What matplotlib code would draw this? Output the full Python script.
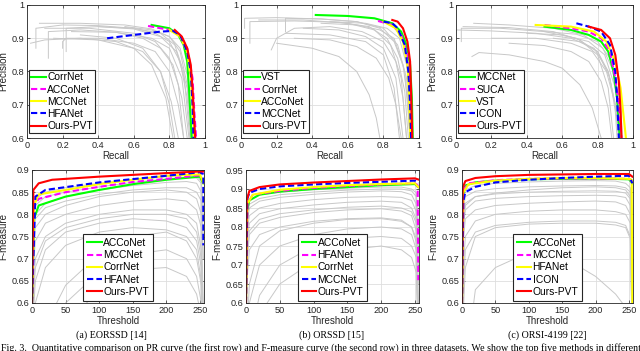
import matplotlib
matplotlib.use("Agg")
import matplotlib.pyplot as plt

plt.rcParams['font.family'] = ['Liberation Sans', 'DejaVu Sans']

W, H = 640, 351

# ---------------- PR curves (recall, precision) ----------------
pr_a_gray = [
    ([0.05, 0.05, 0.2, 0.4, 0.6, 0.72, 0.8, 0.86, 0.9, 0.92], [0.87, 0.93, 0.94, 0.938, 0.93, 0.915, 0.89, 0.83, 0.72, 0.6]),
    ([0.12, 0.12, 0.3, 0.5, 0.65, 0.75, 0.82, 0.87, 0.9], [0.84, 0.92, 0.925, 0.918, 0.9, 0.87, 0.82, 0.72, 0.6]),
    ([0.2, 0.2, 0.22, 0.4, 0.6, 0.72, 0.8, 0.85, 0.88], [0.87, 0.89, 0.9, 0.9, 0.885, 0.86, 0.8, 0.7, 0.6]),
    ([0.22, 0.22, 0.4, 0.6, 0.75, 0.84, 0.9, 0.93], [0.86, 0.93, 0.935, 0.928, 0.905, 0.86, 0.75, 0.6]),
    ([0.02, 0.1, 0.3, 0.5, 0.65, 0.75, 0.81, 0.85], [0.885, 0.895, 0.9, 0.89, 0.86, 0.8, 0.71, 0.6]),
    ([0.07, 0.3, 0.55, 0.7, 0.8, 0.86, 0.9, 0.925], [0.945, 0.945, 0.94, 0.928, 0.905, 0.86, 0.76, 0.6]),
    ([0.1, 0.35, 0.6, 0.72, 0.8, 0.85, 0.88], [0.93, 0.93, 0.915, 0.89, 0.84, 0.76, 0.6]),
    ([0.3, 0.5, 0.65, 0.75, 0.8, 0.83], [0.91, 0.9, 0.87, 0.8, 0.7, 0.6]),
    ([0.25, 0.5, 0.7, 0.8, 0.87, 0.91], [0.92, 0.918, 0.9, 0.87, 0.78, 0.6]),
    ([0.4, 0.6, 0.75, 0.83, 0.88, 0.915], [0.935, 0.93, 0.915, 0.88, 0.8, 0.6]),
    ([0.55, 0.7, 0.8, 0.86, 0.9, 0.93], [0.935, 0.925, 0.905, 0.87, 0.79, 0.6]),
    ([0.15, 0.4, 0.6, 0.7, 0.78, 0.82], [0.9, 0.895, 0.87, 0.82, 0.72, 0.6]),
]
pr_b_gray = [
    ([0.02, 0.02, 0.2, 0.45, 0.65, 0.8, 0.88, 0.93, 0.955], [0.93, 0.96, 0.962, 0.958, 0.95, 0.93, 0.88, 0.78, 0.6]),
    ([0.05, 0.05, 0.3, 0.55, 0.72, 0.82, 0.88, 0.92, 0.94], [0.885, 0.95, 0.952, 0.948, 0.935, 0.9, 0.84, 0.74, 0.6]),
    ([0.17, 0.2, 0.3, 0.5, 0.68, 0.8, 0.87, 0.91, 0.93], [0.865, 0.9, 0.93, 0.935, 0.92, 0.89, 0.83, 0.72, 0.6]),
    ([0.25, 0.25, 0.45, 0.65, 0.78, 0.86, 0.91, 0.94, 0.95], [0.92, 0.96, 0.958, 0.95, 0.93, 0.89, 0.82, 0.7, 0.6]),
    ([0.2, 0.4, 0.55, 0.65, 0.72, 0.76, 0.78], [0.885, 0.87, 0.845, 0.8, 0.73, 0.66, 0.6]),
    ([0.3, 0.5, 0.65, 0.76, 0.83, 0.87, 0.9], [0.9, 0.895, 0.875, 0.84, 0.78, 0.7, 0.6]),
    ([0.1, 0.35, 0.6, 0.75, 0.84, 0.9, 0.93], [0.955, 0.955, 0.945, 0.925, 0.88, 0.78, 0.6]),
    ([0.35, 0.55, 0.7, 0.8, 0.87, 0.91], [0.93, 0.925, 0.905, 0.87, 0.78, 0.6]),
    ([0.45, 0.65, 0.78, 0.86, 0.92, 0.95], [0.945, 0.94, 0.925, 0.9, 0.8, 0.6]),
    ([0.5, 0.7, 0.82, 0.89, 0.94, 0.96], [0.95, 0.945, 0.93, 0.9, 0.8, 0.6]),
    ([0.25, 0.5, 0.7, 0.8, 0.86, 0.89], [0.915, 0.91, 0.89, 0.85, 0.75, 0.6]),
]
pr_c_gray = [
    ([0.0, 0.2, 0.45, 0.65, 0.78, 0.86, 0.9, 0.92], [0.925, 0.922, 0.915, 0.9, 0.87, 0.8, 0.7, 0.6]),
    ([0.03, 0.03, 0.25, 0.5, 0.68, 0.8, 0.87, 0.9, 0.91], [0.89, 0.93, 0.93, 0.92, 0.9, 0.86, 0.78, 0.68, 0.6]),
    ([0.1, 0.3, 0.55, 0.72, 0.83, 0.89, 0.93, 0.94], [0.945, 0.94, 0.93, 0.91, 0.87, 0.8, 0.7, 0.6]),
    ([0.04, 0.3, 0.55, 0.7, 0.8, 0.86, 0.89], [0.935, 0.932, 0.92, 0.895, 0.85, 0.75, 0.6]),
    ([0.09, 0.13, 0.3, 0.5, 0.6, 0.7, 0.77, 0.82], [0.845, 0.857, 0.85, 0.83, 0.81, 0.76, 0.69, 0.6]),
    ([0.3, 0.5, 0.65, 0.75, 0.82, 0.86, 0.88], [0.885, 0.878, 0.86, 0.83, 0.77, 0.69, 0.6]),
    ([0.2, 0.45, 0.65, 0.77, 0.85, 0.9, 0.92], [0.9, 0.9, 0.885, 0.86, 0.8, 0.7, 0.6]),
    ([0.4, 0.6, 0.75, 0.84, 0.9, 0.935], [0.915, 0.91, 0.89, 0.85, 0.75, 0.6]),
    ([0.5, 0.68, 0.8, 0.87, 0.91, 0.93], [0.92, 0.912, 0.89, 0.84, 0.74, 0.6]),
    ([0.55, 0.7, 0.8, 0.86, 0.9, 0.92], [0.9, 0.89, 0.86, 0.8, 0.7, 0.6]),
]

# top-five methods, (name, recall, precision)
pr_a_top = [
    ("CorrNet", [0.70, 0.8, 0.85, 0.88, 0.9, 0.91, 0.92, 0.925], [0.94, 0.93, 0.91, 0.88, 0.83, 0.75, 0.65, 0.6]),
    ("ACCoNet", [0.68, 0.8, 0.86, 0.9, 0.93, 0.94, 0.95], [0.937, 0.925, 0.91, 0.87, 0.78, 0.68, 0.6]),
    ("MCCNet", [0.8, 0.86, 0.9, 0.92, 0.935, 0.94], [0.925, 0.905, 0.86, 0.78, 0.65, 0.6]),
    ("HFANet", [0.45, 0.6, 0.75, 0.82, 0.86, 0.9, 0.92, 0.93, 0.935], [0.90, 0.91, 0.92, 0.922, 0.91, 0.86, 0.8, 0.7, 0.6]),
    ("Ours-PVT", [0.83, 0.87, 0.9, 0.92, 0.93, 0.94, 0.945], [0.925, 0.905, 0.87, 0.82, 0.75, 0.65, 0.6]),
]
pr_b_top = [
    ("VST", [0.42, 0.6, 0.75, 0.85, 0.9, 0.93, 0.95, 0.96, 0.965], [0.97, 0.967, 0.96, 0.945, 0.92, 0.88, 0.82, 0.72, 0.6]),
    ("CorrNet", [0.77, 0.85, 0.9, 0.93, 0.945, 0.95, 0.955], [0.952, 0.94, 0.91, 0.86, 0.78, 0.68, 0.6]),
    ("ACCoNet", [0.8, 0.87, 0.91, 0.935, 0.945, 0.95], [0.95, 0.93, 0.89, 0.82, 0.72, 0.6]),
    ("MCCNet", [0.8, 0.85, 0.88, 0.92, 0.94, 0.95, 0.955], [0.95, 0.945, 0.93, 0.88, 0.8, 0.7, 0.6]),
    ("Ours-PVT", [0.85, 0.88, 0.91, 0.935, 0.95, 0.955, 0.96, 0.962], [0.955, 0.95, 0.93, 0.89, 0.83, 0.75, 0.65, 0.6]),
]
pr_c_top = [
    ("MCCNet", [0.5, 0.65, 0.75, 0.82, 0.86, 0.89, 0.91, 0.925], [0.935, 0.925, 0.91, 0.89, 0.86, 0.8, 0.72, 0.6]),
    ("SUCA", [0.5, 0.65, 0.75, 0.82, 0.87, 0.9, 0.92, 0.935], [0.94, 0.93, 0.92, 0.9, 0.86, 0.78, 0.7, 0.6]),
    ("VST", [0.45, 0.65, 0.78, 0.85, 0.9, 0.93, 0.95, 0.96], [0.94, 0.935, 0.92, 0.89, 0.83, 0.75, 0.65, 0.6]),
    ("ICON", [0.68, 0.75, 0.82, 0.87, 0.9, 0.91, 0.92], [0.945, 0.935, 0.92, 0.88, 0.8, 0.72, 0.6]),
    ("Ours-PVT", [0.75, 0.82, 0.87, 0.9, 0.92, 0.93, 0.935], [0.935, 0.925, 0.9, 0.85, 0.77, 0.68, 0.6]),
]

# ---------------- F-measure curves ----------------
thr = [0, 1, 5, 20, 50, 100, 150, 200, 230, 245, 252, 255]
f_a_gray = [
    [0.55, 0.78, 0.82, 0.84, 0.85, 0.862, 0.872, 0.88, 0.884, 0.882, 0.87, 0.82],
    [0.55, 0.75, 0.80, 0.825, 0.84, 0.855, 0.865, 0.872, 0.874, 0.87, 0.85, 0.75],
    [0.5, 0.7, 0.77, 0.80, 0.82, 0.84, 0.85, 0.855, 0.85, 0.835, 0.8, 0.7],
    [0.5, 0.66, 0.74, 0.78, 0.80, 0.82, 0.83, 0.835, 0.83, 0.81, 0.77, 0.6],
    [0.45, 0.6, 0.7, 0.75, 0.78, 0.80, 0.81, 0.81, 0.80, 0.78, 0.72, 0.55],
    [0.4, 0.55, 0.65, 0.72, 0.76, 0.78, 0.79, 0.785, 0.77, 0.74, 0.68, 0.5],
    [0.4, 0.5, 0.6, 0.68, 0.73, 0.76, 0.77, 0.765, 0.75, 0.72, 0.65, 0.5],
    [0.3, 0.35, 0.45, 0.55, 0.64, 0.71, 0.75, 0.76, 0.74, 0.70, 0.64, 0.5],
    [0.3, 0.33, 0.4, 0.5, 0.6, 0.67, 0.71, 0.72, 0.70, 0.66, 0.6, 0.45],
    [0.3, 0.32, 0.36, 0.45, 0.55, 0.63, 0.675, 0.68, 0.66, 0.62, 0.57, 0.45],
    [0.55, 0.8, 0.835, 0.85, 0.86, 0.87, 0.878, 0.885, 0.888, 0.886, 0.875, 0.8],
    [0.5, 0.72, 0.79, 0.815, 0.83, 0.845, 0.855, 0.86, 0.86, 0.85, 0.83, 0.7],
    [0.4, 0.58, 0.68, 0.74, 0.77, 0.79, 0.80, 0.80, 0.79, 0.76, 0.7, 0.55],
]
f_b_gray = [
    [0.55, 0.83, 0.87, 0.885, 0.892, 0.898, 0.902, 0.905, 0.905, 0.9, 0.89, 0.8],
    [0.55, 0.8, 0.85, 0.868, 0.878, 0.886, 0.892, 0.895, 0.893, 0.885, 0.86, 0.7],
    [0.5, 0.78, 0.83, 0.85, 0.862, 0.872, 0.878, 0.88, 0.878, 0.87, 0.84, 0.65],
    [0.5, 0.75, 0.81, 0.835, 0.848, 0.858, 0.865, 0.868, 0.865, 0.85, 0.82, 0.6],
    [0.45, 0.7, 0.78, 0.81, 0.825, 0.838, 0.845, 0.848, 0.842, 0.83, 0.79, 0.55],
    [0.4, 0.65, 0.74, 0.78, 0.80, 0.815, 0.822, 0.824, 0.818, 0.8, 0.76, 0.5],
    [0.35, 0.45, 0.6, 0.7, 0.75, 0.78, 0.795, 0.8, 0.795, 0.78, 0.74, 0.5],
    [0.3, 0.4, 0.5, 0.62, 0.7, 0.75, 0.77, 0.775, 0.77, 0.75, 0.72, 0.5],
    [0.3, 0.35, 0.45, 0.57, 0.65, 0.71, 0.74, 0.75, 0.74, 0.72, 0.68, 0.5],
    [0.55, 0.82, 0.86, 0.875, 0.885, 0.892, 0.897, 0.9, 0.9, 0.895, 0.88, 0.75],
    [0.4, 0.5, 0.65, 0.75, 0.79, 0.81, 0.82, 0.822, 0.815, 0.8, 0.77, 0.55],
    [0.5, 0.7, 0.79, 0.82, 0.835, 0.845, 0.852, 0.855, 0.85, 0.84, 0.81, 0.6],
]
f_c_gray = [
    [0.55, 0.82, 0.855, 0.865, 0.87, 0.873, 0.875, 0.876, 0.875, 0.87, 0.86, 0.8],
    [0.55, 0.8, 0.84, 0.852, 0.858, 0.862, 0.864, 0.865, 0.864, 0.86, 0.85, 0.7],
    [0.5, 0.78, 0.825, 0.84, 0.846, 0.85, 0.852, 0.853, 0.852, 0.848, 0.835, 0.65],
    [0.5, 0.76, 0.81, 0.83, 0.836, 0.84, 0.842, 0.843, 0.842, 0.838, 0.82, 0.6],
    [0.45, 0.72, 0.79, 0.81, 0.82, 0.825, 0.828, 0.83, 0.828, 0.82, 0.8, 0.55],
    [0.4, 0.65, 0.75, 0.785, 0.8, 0.807, 0.81, 0.81, 0.806, 0.8, 0.78, 0.5],
    [0.4, 0.6, 0.72, 0.76, 0.775, 0.782, 0.785, 0.785, 0.782, 0.775, 0.75, 0.5],
    [0.35, 0.55, 0.68, 0.75, 0.77, 0.778, 0.78, 0.78, 0.776, 0.77, 0.745, 0.5],
    [0.3, 0.35, 0.45, 0.63, 0.68, 0.714, 0.705, 0.66, 0.62, 0.59, 0.57, 0.5],
    [0.5, 0.75, 0.82, 0.84, 0.848, 0.855, 0.86, 0.862, 0.86, 0.855, 0.84, 0.6],
]

f_a_top = [
    ("ACCoNet", [0, 3, 10, 50, 100, 150, 200, 250, 255], [0.6, 0.79, 0.82, 0.84, 0.855, 0.868, 0.878, 0.885, 0.87]),
    ("MCCNet", [0, 3, 10, 50, 100, 150, 200, 250, 255], [0.6, 0.82, 0.835, 0.85, 0.862, 0.873, 0.88, 0.888, 0.895]),
    ("CorrNet", [0, 3, 10, 50, 100, 150, 200, 250, 255], [0.6, 0.82, 0.845, 0.855, 0.868, 0.878, 0.887, 0.89, 0.87]),
    ("HFANet", [0, 5, 20, 100, 200, 250, 255, 255], [0.6, 0.84, 0.855, 0.872, 0.887, 0.895, 0.89, 0.73]),
    ("Ours-PVT", [0, 2, 10, 30, 100, 200, 255], [0.6, 0.855, 0.87, 0.878, 0.885, 0.893, 0.897]),
]
f_b_top = [
    ("ACCoNet", [0, 1, 5, 20, 50, 100, 150, 200, 250, 255], [0.6, 0.84, 0.87, 0.885, 0.893, 0.9, 0.905, 0.91, 0.913, 0.905]),
    ("HFANet", [0, 2, 10, 50, 100, 150, 200, 250, 254, 255], [0.6, 0.86, 0.885, 0.895, 0.903, 0.908, 0.912, 0.915, 0.91, 0.66]),
    ("CorrNet", [0, 2, 10, 50, 100, 150, 200, 250, 255], [0.6, 0.86, 0.885, 0.898, 0.905, 0.91, 0.913, 0.915, 0.905]),
    ("MCCNet", [0, 2, 5, 20, 50, 100, 150, 200, 250, 255], [0.6, 0.875, 0.89, 0.9, 0.907, 0.912, 0.916, 0.919, 0.922, 0.915]),
    ("Ours-PVT", [0, 1, 5, 20, 50, 100, 150, 200, 250, 255], [0.6, 0.87, 0.895, 0.905, 0.912, 0.917, 0.921, 0.925, 0.928, 0.925]),
]
f_c_top = [
    ("ACCoNet", [0, 1, 5, 20, 50, 100, 150, 200, 250, 255], [0.6, 0.84, 0.865, 0.872, 0.876, 0.879, 0.88, 0.881, 0.879, 0.87]),
    ("MCCNet", [0, 2, 10, 50, 100, 150, 200, 250, 255], [0.6, 0.855, 0.87, 0.877, 0.88, 0.881, 0.881, 0.88, 0.875]),
    ("HFANet", [0, 2, 10, 50, 100, 150, 200, 250, 254, 255], [0.6, 0.85, 0.868, 0.876, 0.88, 0.882, 0.882, 0.88, 0.878, 0.6]),
    ("ICON", [0, 2, 5, 20, 50, 100, 150, 200, 250, 255], [0.6, 0.83, 0.85, 0.862, 0.872, 0.878, 0.882, 0.885, 0.887, 0.87]),
    ("Ours-PVT", [0, 1, 5, 20, 50, 100, 150, 200, 250, 255], [0.6, 0.86, 0.875, 0.882, 0.886, 0.889, 0.89, 0.891, 0.891, 0.885]),
]

# colour / dash style per legend slot
slot_styles = [
    dict(color="#00ff00", ls="-"),
    dict(color="#ff00ff", ls="--"),
    dict(color="#ffff00", ls="-"),
    dict(color="#0000ff", ls="--"),
    dict(color="#ff0000", ls="-"),
]

captions = ["(a) EORSSD [14]", "(b) ORSSD [15]", "(c) ORSI-4199 [22]"]
fig_caption = ("Fig. 3.  Quantitative comparison on PR curve (the first row) and F-measure curve "
               "(the second row) in three datasets. We show the top five methods in different")

fig = plt.figure(figsize=(W / 100, H / 100), dpi=100)


def px_axes(l, r, t, b):
    return fig.add_axes([l / W, 1 - b / H, (r - l) / W, (b - t) / H])


def style(ax):
    ax.grid(True, color="#dedede", lw=0.6)
    ax.set_axisbelow(True)
    ax.tick_params(direction="in", top=True, right=True, length=2.5, width=0.5,
                   labelsize=6.6, colors="#262626", pad=2)
    for s in ax.spines.values():
        s.set_color("#262626")
        s.set_linewidth(0.6)


def draw_top(ax, top):
    for (name, x, y), st in zip(top, slot_styles):
        ax.plot(x, y, color=st["color"], ls=st["ls"], lw=1.5, label=name,
                dashes=(3, 1.5) if st["ls"] == "--" else (None, None))


def legend(ax, pad, **kw):
    lg = ax.legend(fontsize=7.4, handlelength=1.4, handletextpad=0.15, labelspacing=0.22,
                   borderpad=pad, borderaxespad=0, fancybox=False, framealpha=1, **kw)
    lg.get_frame().set_edgecolor("#262626")
    lg.get_frame().set_linewidth(0.8)


top_boxes = [(27, 205), (241, 419), (456, 633)]
bot_boxes = [(32, 204), (246, 419), (462, 633)]
pr_gray = [pr_a_gray, pr_b_gray, pr_c_gray]
pr_top = [pr_a_top, pr_b_top, pr_c_top]
f_gray = [f_a_gray, f_b_gray, f_c_gray]
f_top = [f_a_top, f_b_top, f_c_top]
f_ymax = [0.9, 0.95, 0.9]
cap_x = [111, 332, 547]

for i in range(3):
    # PR curve
    ax = px_axes(top_boxes[i][0], top_boxes[i][1], 5, 138)
    style(ax)
    for r, p in pr_gray[i]:
        ax.plot(r, p, color="#c8c8c8", lw=0.7)
    draw_top(ax, pr_top[i])
    ax.set_xlim(0, 1)
    ax.set_ylim(0.6, 1)
    ax.set_xticks([0, 0.2, 0.4, 0.6, 0.8, 1])
    ax.set_xticklabels(["0", "0.2", "0.4", "0.6", "0.8", "1"])
    ax.set_yticks([0.6, 0.7, 0.8, 0.9, 1])
    ax.set_yticklabels(["0.6", "0.7", "0.8", "0.9", "1"])
    ax.set_xlabel("Recall", fontsize=7, color="#262626", labelpad=1)
    ax.set_ylabel("Precision", fontsize=7, color="#262626", labelpad=2)
    legend(ax, 0.2, loc="lower left", bbox_to_anchor=(0.012, 0.035))

    # F-measure curve
    ax = px_axes(bot_boxes[i][0], bot_boxes[i][1], 170, 303)
    style(ax)
    for v in f_gray[i]:
        ax.plot(thr, v, color="#c8c8c8", lw=0.7)
    draw_top(ax, f_top[i])
    ax.set_xlim(0, 256)
    ax.set_ylim(0.6, f_ymax[i])
    ax.set_xticks([0, 50, 100, 150, 200, 250])
    yt = [0.6, 0.65, 0.7, 0.75, 0.8, 0.85, 0.9, 0.95]
    yt = [t for t in yt if t <= f_ymax[i] + 1e-9]
    ax.set_yticks(yt)
    ax.set_yticklabels([("%g" % t) for t in yt])
    ax.set_xlabel("Threshold", fontsize=7, color="#262626", labelpad=1)
    ax.set_ylabel("F-measure", fontsize=7, color="#262626", labelpad=2)
    legend(ax, 0.4, loc="lower center", bbox_to_anchor=(0.5, 0.015))

    fig.text(cap_x[i] / W, 1 - 335 / H, captions[i], ha="center", va="center",
             fontsize=7.2, family="Liberation Serif")

fig.text(1 / W, 1 - 343 / H, fig_caption, ha="left", va="top", fontsize=7.2,
         family="Liberation Serif")

fig.savefig("out.png", dpi=100)
